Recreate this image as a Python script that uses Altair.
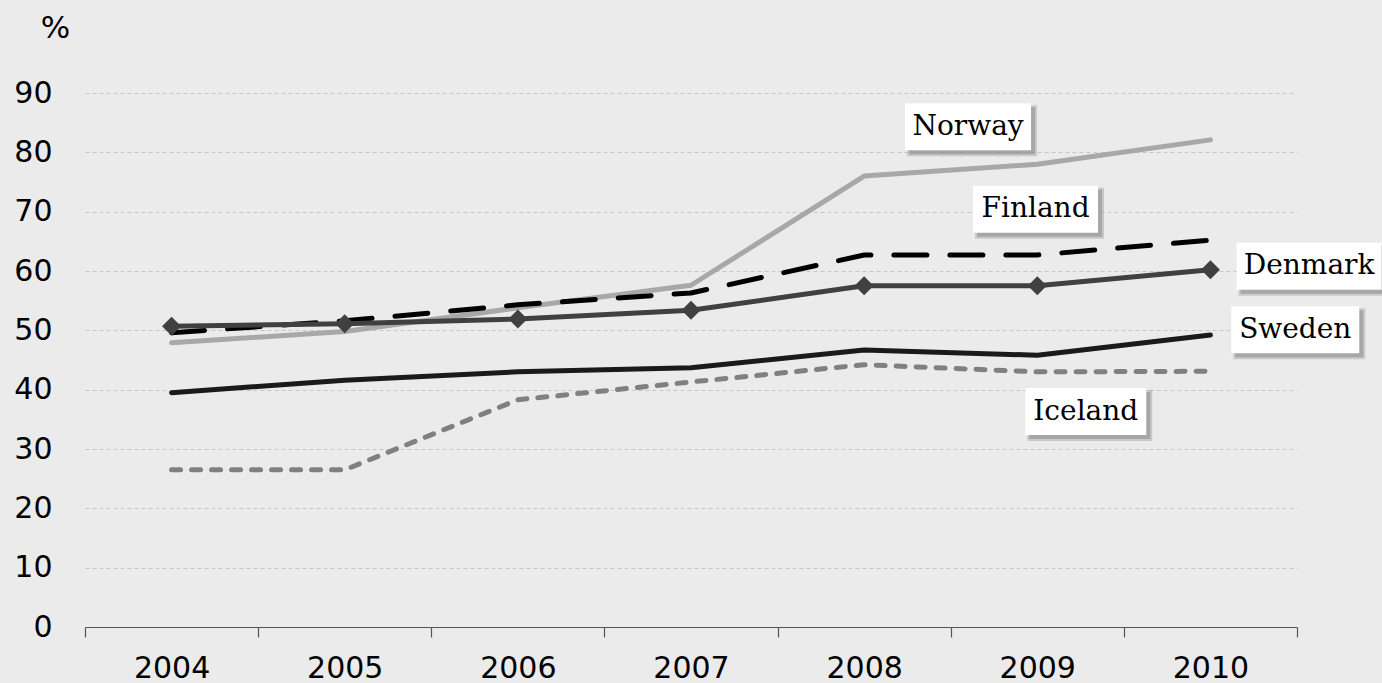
import altair as alt
import pandas as pd

# ---- data ----
years = ["2004", "2005", "2006", "2007", "2008", "2009", "2010"]
norway = [47.9, 49.8, 53.8, 57.6, 76.0, 78.0, 82.1]
finland = [49.6, 51.6, 54.3, 56.3, 62.7, 62.7, 65.2]
denmark = [50.7, 51.1, 51.9, 53.4, 57.5, 57.5, 60.2]
sweden = [39.5, 41.6, 43.0, 43.7, 46.7, 45.8, 49.2]
iceland = [26.5, 26.5, 38.3, 41.3, 44.2, 43.0, 43.1]

label_names = ["Norway", "Finland", "Denmark", "Sweden", "Iceland"]
label_x = [2008.60, 2008.99, 2010.57, 2010.49, 2009.28]   # label centre, in years
label_y = [84.3, 70.4, 60.8, 50.1, 36.3]                   # label centre, in %
label_box_w = [126, 125, 145, 128, 121]                    # box width, px
label_box_h = 47                                           # box height, px

y_ticks = [0, 10, 20, 30, 40, 50, 60, 70, 80, 90]

# ---- layout ----
W, H = 1212, 534
PAD = {"left": 85, "top": 93, "right": 85, "bottom": 56}
px_per_year = W / len(years)
px_per_unit = H / 90.0

series = {
    "Norway": norway,
    "Finland": finland,
    "Denmark": denmark,
    "Sweden": sweden,
    "Iceland": iceland,
}
rows = []
for name, vals in series.items():
    for yr, v in zip(years, vals):
        rows.append({"country": name, "year": yr, "value": v})
df = pd.DataFrame(rows)

lab = pd.DataFrame({"name": label_names, "lx": label_x, "ly": label_y, "bw": label_box_w})
lab["x1"] = lab["lx"] - lab["bw"] / 2 / px_per_year
lab["x2"] = lab["lx"] + lab["bw"] / 2 / px_per_year
lab["y1"] = lab["ly"] - label_box_h / 2 / px_per_unit
lab["y2"] = lab["ly"] + label_box_h / 2 / px_per_unit

x_enc = alt.X(
    "year:O",
    scale=alt.Scale(type="band", paddingInner=0, paddingOuter=0),
    bandPosition=0.5,
    axis=alt.Axis(
        title=None,
        labelAngle=0,
        labelFont="DejaVu Sans",
        labelFontSize=30,
        labelColor="#000000",
        labelPadding=16,
        tickBand="extent",
        tickSize=10,
        tickColor="#555555",
        tickWidth=1.2,
        domainColor="#555555",
        domainWidth=1.2,
        grid=False,
    ),
)
y_axis = alt.Axis(
    title="%",
    titleAngle=0,
    titleFont="DejaVu Sans",
    titleFontSize=31,
    titleFontWeight="normal",
    titleColor="#000000",
    titleX=-30,
    titleY=-65,
    titleAlign="center",
    titleBaseline="middle",
    values=y_ticks,
    labelFont="DejaVu Sans",
    labelFontSize=30,
    labelColor="#000000",
    labelPadding=33,
    ticks=False,
    domain=False,
    grid=True,
    gridColor="#c6c6c6",
    gridDash=[4, 3],
    gridWidth=1,
)
y_scale = alt.Scale(domain=[0, 90], nice=False)
y_enc = alt.Y("value:Q", scale=y_scale, axis=y_axis)

base = alt.Chart(df)


def line(name, color, dash=None, width=5):
    kw = dict(color=color, strokeWidth=width, strokeCap="round", strokeJoin="round")
    if dash is not None:
        kw["strokeDash"] = dash
    return base.transform_filter(alt.datum.country == name).mark_line(**kw).encode(x=x_enc, y=y_enc)


lines = alt.layer(
    line("Norway", "#a8a8a8"),
    line("Iceland", "#808080", dash=[9, 11]),
    line("Sweden", "#1a1a1a"),
    line("Finland", "#000000", dash=[33, 23]),
    line("Denmark", "#404040"),
    base.transform_filter(alt.datum.country == "Denmark")
    .mark_point(shape="diamond", filled=True, size=360, color="#404040", opacity=1)
    .encode(x=x_enc, y=y_enc),
)

lx_scale = alt.Scale(domain=[2003.5, 2010.5], nice=False, zero=False)
lx = alt.X("x1:Q", scale=lx_scale, axis=None)
ly = alt.Y("y1:Q", scale=y_scale, axis=y_axis)
lchart = alt.Chart(lab)
shadow2 = lchart.mark_rect(
    color="#8a8a8a", opacity=0.35, xOffset=2, x2Offset=6, yOffset=6, y2Offset=2
).encode(x=lx, x2="x2:Q", y=ly, y2="y2:Q")
shadow = lchart.mark_rect(
    color="#8a8a8a", opacity=0.55, xOffset=4, x2Offset=4, yOffset=4, y2Offset=4
).encode(x=lx, x2="x2:Q", y=ly, y2="y2:Q")
box = lchart.mark_rect(color="#ffffff").encode(x=lx, x2="x2:Q", y=ly, y2="y2:Q")
text = lchart.mark_text(
    font="DejaVu Serif", fontSize=28, color="#000000", align="center", baseline="middle"
).encode(
    x=alt.X("lx:Q", scale=lx_scale, axis=None),
    y=alt.Y("ly:Q", scale=y_scale, axis=y_axis),
    text="name:N",
)
labels = alt.layer(shadow2, shadow, box, text)

chart = (
    alt.layer(lines, labels)
    .resolve_scale(x="independent")
    .properties(
        width=W,
        height=H,
        autosize=alt.AutoSizeParams(type="none"),
        padding=PAD,
    )
    .configure(background="#ebebeb")
    .configure_view(stroke=None)
)

chart.save("out.html", embed_options={"renderer": "svg", "actions": False})
